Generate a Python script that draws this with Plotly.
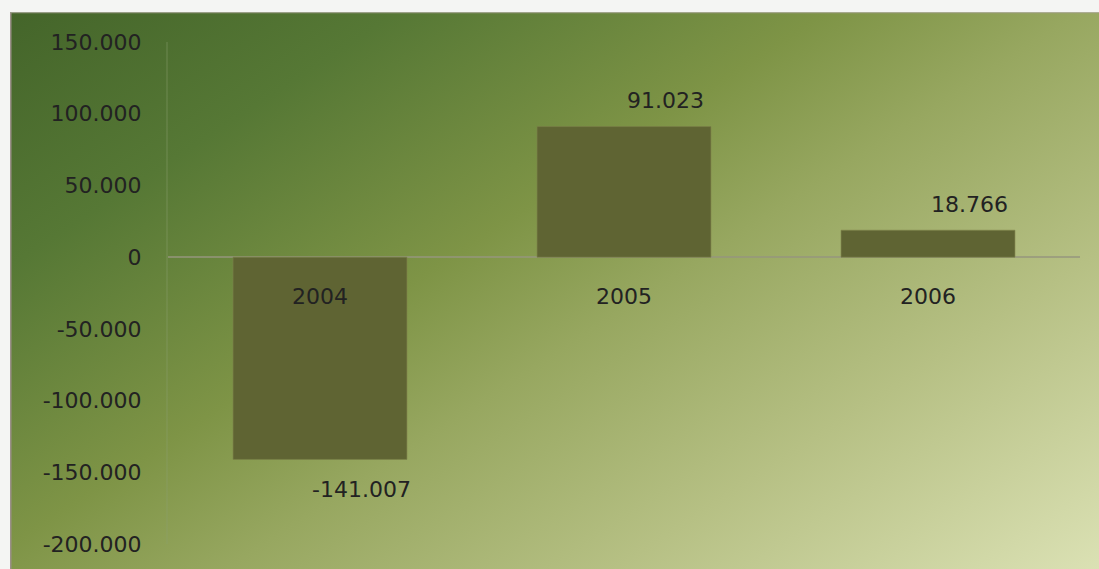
import base64
import plotly.graph_objects as go

# ---- data ----
years = ["2004", "2005", "2006"]
values = [-141007, 91023, 18766]
tick_values = [150000, 100000, 50000, 0, -50000, -100000, -150000, -200000]
tick_labels = ["150.000", "100.000", "50.000", "0", "-50.000", "-100.000", "-150.000", "-200.000"]

W, H = 1099, 569
L, R, T, B = 168, 1080, 42, 548  # plot area in px
pw, ph = R - L, B - T

# background gradient (diagonal) as svg image
gw, gh = 1089, 562
a, b = 0.56 / gw, 0.44 / gh
n2 = a * a + b * b
x2, y2 = a / n2, b / n2
svg = f'''<svg xmlns="http://www.w3.org/2000/svg" width="{gw}" height="{gh}" viewBox="0 0 {gw} {gh}" preserveAspectRatio="none">
<defs><linearGradient id="g" gradientUnits="userSpaceOnUse" x1="0" y1="0" x2="{x2:.1f}" y2="{y2:.1f}">
<stop offset="0" stop-color="#44652a"/>
<stop offset="0.2" stop-color="#567835"/>
<stop offset="0.42" stop-color="#7e9446"/>
<stop offset="0.55" stop-color="#97a760"/>
<stop offset="0.75" stop-color="#b6c084"/>
<stop offset="1" stop-color="#dbe1b4"/>
</linearGradient></defs>
<rect x="0" y="0" width="{gw}" height="{gh}" fill="url(#g)"/>
<rect x="0" y="0" width="1.5" height="{gh}" fill="#9a8f88"/>
<rect x="0" y="0" width="{gw}" height="1" fill="#a09a8c"/>
</svg>'''
src = "data:image/svg+xml;base64," + base64.b64encode(svg.encode()).decode()

fig = go.Figure()
fig.add_trace(go.Bar(
    x=years, y=values,
    marker=dict(color="#5f6433", line=dict(color="rgba(125,130,75,0.6)", width=1)),
    width=0.572,
    hoverinfo="skip",
))

def fmt(v):
    s = f"{abs(v):,}".replace(",", ".")
    return ("-" if v < 0 else "") + s

label_font = dict(family="DejaVu Sans", size=22, color="#222222")
annotations = []
for i, (yr, v) in enumerate(zip(years, values)):
    annotations.append(dict(
        x=i, y=v, xref="x", yref="y", text=fmt(v), showarrow=False,
        xanchor="center", yanchor="middle",
        xshift=41, yshift=26 if v > 0 else -30,
        font=label_font,
    ))
    annotations.append(dict(
        x=i, y=0, xref="x", yref="y", text=yr, showarrow=False,
        xanchor="center", yanchor="middle", yshift=-39,
        font=label_font,
    ))

fig.update_layout(
    width=W, height=H,
    margin=dict(l=L, r=W - R, t=T, b=H - B, pad=0),
    paper_bgcolor="#f4f5f3",
    plot_bgcolor="rgba(0,0,0,0)",
    showlegend=False,
    separators=",.",
    font=dict(family="DejaVu Sans", size=22, color="#222222"),
    images=[dict(
        source=src, xref="paper", yref="paper",
        x=(10 - L) / pw, y=(B - 12) / ph,
        sizex=gw / pw, sizey=gh / ph,
        xanchor="left", yanchor="top", sizing="stretch", layer="below",
    )],
    annotations=annotations,
    xaxis=dict(
        type="category",
        range=[-0.5, 2.5], showticklabels=False, showgrid=False,
        zeroline=False, showline=False, ticks="",
    ),
    yaxis=dict(
        range=[-200000, 150000], tickvals=tick_values, ticktext=tick_labels,
        showgrid=False, zeroline=True, zerolinecolor="rgba(150,150,125,0.75)",
        zerolinewidth=2, showline=True, linecolor="rgba(140,160,110,0.25)",
        linewidth=2, ticks="", ticklabelstandoff=20,
        tickfont=label_font,
    ),
)

fig.write_html(
    "out.html",
    config={"displayModeBar": False},
    post_script="document.body.style.margin='0';document.body.style.overflow='hidden';",
)
